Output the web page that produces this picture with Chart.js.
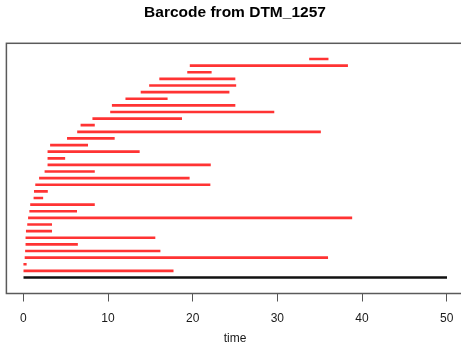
<!DOCTYPE html>
<html>
<head>
<meta charset="utf-8">
<script src="https://cdn.jsdelivr.net/npm/chart.js@4"></script>
<style>
    html, body { margin: 0; padding: 0; background: #fff; overflow: hidden; }
    #wrap { width: 472px; height: 348px; }
</style>
</head>
<body>
<div id="wrap"><canvas id="barcode" width="472" height="348"></canvas></div>
<script>
    // ── Data (bottom row first) ────────────────
    const births = [0, 0.05, 0.2, 0.25, 0.3, 0.3, 0.35, 0.5, 0.6, 0.75, 0.85, 1.25, 1.3, 1.45, 1.9, 2.55,
                    2.9, 2.9, 2.9, 3.2, 5.2, 6.4, 6.8, 8.2, 10.3, 10.5, 12.1, 13.9, 14.9, 16.1, 19.4, 19.7, 33.8];
    const deaths = [17.7, 0.35, 35.95, 16.15, 6.4, 15.55, 3.35, 3.35, 38.8, 6.3, 8.4, 2.3, 2.85, 22.05, 19.6, 8.4,
                    22.1, 4.9, 13.7, 7.6, 10.75, 35.1, 8.4, 18.7, 29.6, 25.0, 17.0, 24.3, 25.1, 25.0, 22.2, 38.3, 36.0];
    const dim0Bar = [0, 50];
    const xTicks = [0, 10, 20, 30, 40, 50];

    const redBars = births.map((b, i) => ({ x: [b, deaths[i]], y: i + 1 }));
    const blackBars = [{ x: dim0Bar, y: 0 }];

    const FONT = '"Liberation Sans", Arial, Helvetica, sans-serif';

    // ── Frame around the plot region ───────────
    const framePlugin = {
        id: 'frame',
        afterDraw(chart) {
            const { ctx, chartArea: a } = chart;
            ctx.save();
            ctx.strokeStyle = '#5a5a5a';
            ctx.lineWidth = 1.5;
            ctx.strokeRect(a.left, a.top, a.right - a.left, a.bottom - a.top);
            ctx.restore();
        }
    };

    new Chart(document.getElementById('barcode').getContext('2d'), {
        type: 'bar',
        data: {
            datasets: [
                { data: redBars, backgroundColor: '#ff3333', barThickness: 2, grouped: false },
                { data: blackBars, backgroundColor: '#111', barThickness: 2, grouped: false }
            ]
        },
        options: {
            indexAxis: 'y',
            responsive: false,
            animation: false,
            layout: { padding: { left: 6.4, right: 8.4, top: 0, bottom: 0 } },
            plugins: {
                legend: { display: false },
                tooltip: { enabled: false },
                title: {
                    display: true,
                    text: 'Barcode from DTM_1257',
                    color: '#000',
                    font: { family: FONT, size: 15.5, weight: 'bold' },
                    padding: { top: 3.2, bottom: 21.5 }
                }
            },
            scales: {
                x: {
                    type: 'linear',
                    min: -2,
                    max: 52,
                    afterBuildTicks: s => { s.ticks = xTicks.map(v => ({ value: v })); },
                    border: { display: false },
                    grid: { drawOnChartArea: false, drawTicks: true, tickLength: 8, color: '#555' },
                    ticks: { color: '#1a1a1a', padding: 9.5, maxRotation: 0, font: { family: FONT, size: 12 } },
                    title: {
                        display: true, text: 'time', color: '#1a1a1a',
                        font: { family: FONT, size: 12 },
                        padding: { top: -3.1, bottom: 1.8 }
                    }
                },
                y: {
                    type: 'linear',
                    display: false,
                    offset: false,
                    min: -2.42,
                    max: 35.37
                }
            }
        },
        plugins: [framePlugin]
    });
</script>
</body>
</html>
